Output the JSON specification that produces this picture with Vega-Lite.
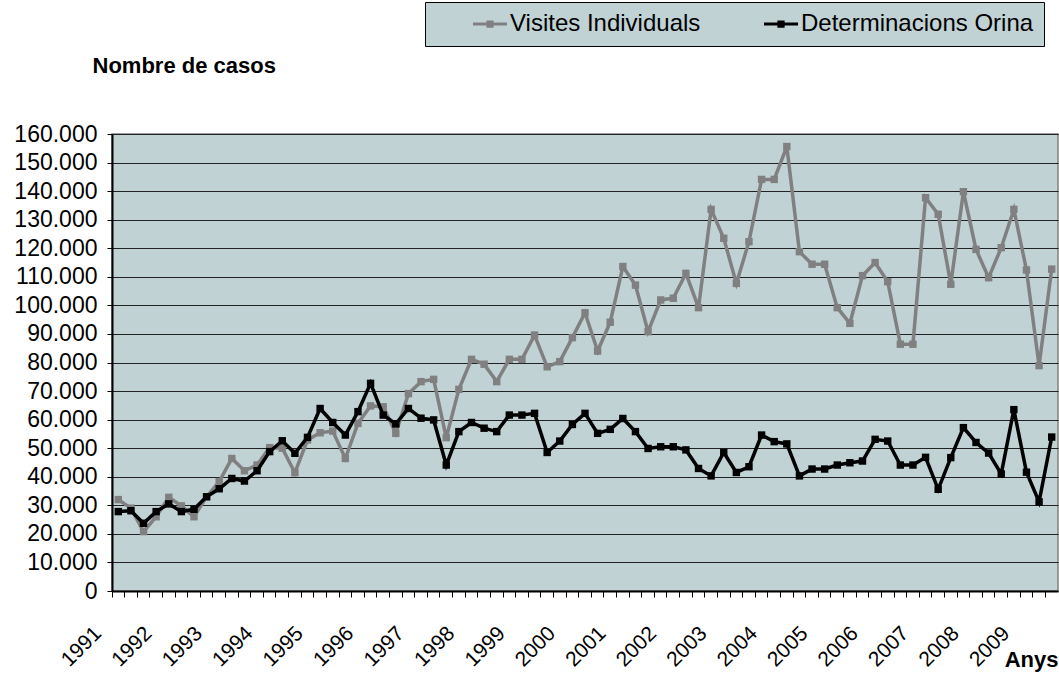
{
  "$schema": "https://vega.github.io/schema/vega-lite/v6.json",
  "width": 946,
  "height": 457,
  "autosize": {"type": "none"},
  "padding": {"left": 112, "top": 134, "right": 1, "bottom": 86},
  "background": "white",
  "config": {
    "locale": {"number": {"decimal": ",", "thousands": ".", "grouping": [3], "currency": ["", " €"]}},
    "view": {"fill": "#C0D2D4", "stroke": "#808080", "strokeWidth": 1.5},
    "font": "Liberation Sans"
  },
  "data": {"values": [
    {"t":"1991-1","vis":32000,"det":27800},{"t":"1991-2","vis":29000,"det":28100},{"t":"1991-3","vis":20800,"det":23700},{"t":"1991-4","vis":26000,"det":27800},
    {"t":"1992-1","vis":32800,"det":30500},{"t":"1992-2","vis":29800,"det":27800},{"t":"1992-3","vis":26000,"det":28600},{"t":"1992-4","vis":33000,"det":33000},
    {"t":"1993-1","vis":38300,"det":35800},{"t":"1993-2","vis":46400,"det":39400},{"t":"1993-3","vis":42100,"det":38500},{"t":"1993-4","vis":44100,"det":42100},
    {"t":"1994-1","vis":50200,"det":48800},{"t":"1994-2","vis":50000,"det":52600},{"t":"1994-3","vis":41400,"det":48200},{"t":"1994-4","vis":52900,"det":53800},
    {"t":"1995-1","vis":55400,"det":63900},{"t":"1995-2","vis":56000,"det":59000},{"t":"1995-3","vis":46400,"det":54600},{"t":"1995-4","vis":58700,"det":62800},
    {"t":"1996-1","vis":64800,"det":72700},{"t":"1996-2","vis":64500,"det":61600},{"t":"1996-3","vis":55200,"det":58500},{"t":"1996-4","vis":69100,"det":63900},
    {"t":"1997-1","vis":73300,"det":60500},{"t":"1997-2","vis":74100,"det":59900},{"t":"1997-3","vis":53700,"det":44100},{"t":"1997-4","vis":70600,"det":55800},
    {"t":"1998-1","vis":81100,"det":59000},{"t":"1998-2","vis":79400,"det":57000},{"t":"1998-3","vis":73300,"det":55800},{"t":"1998-4","vis":81100,"det":61600},
    {"t":"1999-1","vis":81100,"det":61600},{"t":"1999-2","vis":89600,"det":62200},{"t":"1999-3","vis":78500,"det":48500},{"t":"1999-4","vis":80300,"det":52500},
    {"t":"2000-1","vis":88700,"det":58300},{"t":"2000-2","vis":97400,"det":62200},{"t":"2000-3","vis":84000,"det":55200},{"t":"2000-4","vis":94100,"det":56600},
    {"t":"2001-1","vis":113600,"det":60400},{"t":"2001-2","vis":107100,"det":55800},{"t":"2001-3","vis":90800,"det":49900},{"t":"2001-4","vis":101900,"det":50500},
    {"t":"2002-1","vis":102500,"det":50500},{"t":"2002-2","vis":111200,"det":49400},{"t":"2002-3","vis":99200,"det":42900},{"t":"2002-4","vis":133600,"det":40300},
    {"t":"2003-1","vis":123500,"det":48500},{"t":"2003-2","vis":107700,"det":41500},{"t":"2003-3","vis":122300,"det":43500},{"t":"2003-4","vis":144100,"det":54600},
    {"t":"2004-1","vis":144100,"det":52300},{"t":"2004-2","vis":155600,"det":51500},{"t":"2004-3","vis":118800,"det":40300},{"t":"2004-4","vis":114400,"det":42700},
    {"t":"2005-1","vis":114400,"det":42700},{"t":"2005-2","vis":99200,"det":44100},{"t":"2005-3","vis":93700,"det":44900},{"t":"2005-4","vis":110400,"det":45500},
    {"t":"2006-1","vis":115000,"det":53100},{"t":"2006-2","vis":108300,"det":52500},{"t":"2006-3","vis":86400,"det":44100},{"t":"2006-4","vis":86400,"det":44100},
    {"t":"2007-1","vis":137700,"det":46800},{"t":"2007-2","vis":131900,"det":35600},{"t":"2007-3","vis":107400,"det":46700},{"t":"2007-4","vis":139800,"det":57200},
    {"t":"2008-1","vis":119600,"det":52000},{"t":"2008-2","vis":109700,"det":48300},{"t":"2008-3","vis":120200,"det":41000},{"t":"2008-4","vis":133600,"det":63500},
    {"t":"2009-1","vis":112400,"det":41600},{"t":"2009-2","vis":78900,"det":31200},{"t":"2009-3","vis":112700,"det":53900}
  ]},
  "transform": [
    {"fold": ["vis", "det"], "as": ["k", "value"]},
    {"lookup": "k", "from": {"data": {"values": [{"k": "vis", "serie": "Visites Individuals"}, {"k": "det", "serie": "Determinacions Orina"}]}, "key": "k", "fields": ["serie"]}}
  ],
  "encoding": {
    "x": {
      "field": "t", "type": "ordinal",
      "scale": {"type": "band", "paddingInner": 0, "paddingOuter": 0},
      "axis": {
        "title": "Anys", "titleFontWeight": "bold", "titleFontSize": 22, "titleX": 946, "titleY": 75, "titleAlign": "right", "titleBaseline": "alphabetic", "titleColor": "#000",
        "labelExpr": "substring(datum.label, 5) == '1' ? substring(datum.label, 0, 4) : ''",
        "labelAngle": -45, "labelAlign": "right", "labelBaseline": "middle", "labelFontSize": 21, "labelColor": "#000", "labelPadding": 33, "labelOffset": -20,
        "bandPosition": 0, "tickSize": 6, "tickColor": "#000", "tickWidth": 1,
        "domainColor": "#000", "domainWidth": 2, "grid": false, "labelOverlap": false
      }
    },
    "y": {
      "field": "value", "type": "quantitative",
      "scale": {"domain": [0, 160000], "nice": false},
      "axis": {
        "values": [0,10000,20000,30000,40000,50000,60000,70000,80000,90000,100000,110000,120000,130000,140000,150000,160000],
        "format": ",.0f", "labelFontSize": 23, "labelColor": "#000", "labelPadding": 10, "tickSize": 5, "tickColor": "#000",
        "domainColor": "#000", "domainWidth": 2, "grid": true, "gridColor": "#222", "gridWidth": 1, "gridOpacity": 1,
        "title": "Nombre de casos", "titleAngle": 0, "titleX": -20, "titleY": -62, "titleAlign": "left", "titleBaseline": "alphabetic",
        "titleFontSize": 22, "titleFontWeight": "bold", "titleColor": "#000"
      }
    },
    "color": {
      "field": "serie", "type": "nominal",
      "scale": {"domain": ["Visites Individuals", "Determinacions Orina"], "range": ["#808080", "#000000"]},
      "legend": {
        "title": null, "orient": "none", "legendX": 313, "legendY": -132, "direction": "horizontal",
        "fillColor": "#C0D2D4", "strokeColor": "#000", "padding": 10,
        "symbolType": "M-2,0H2M-0.25,-0.25H0.25V0.25H-0.25Z", "symbolSize": 289, "symbolStrokeWidth": 3, "symbolOffset": 43,
        "labelFontSize": 24, "labelOffset": 8, "columnPadding": 25, "labelColor": "#000", "labelLimit": 500
      }
    }
  },
  "layer": [
    {
      "transform": [{"filter": "datum.k == 'vis'"}],
      "mark": {"type": "line", "strokeWidth": 3.5, "point": {"shape": "square", "size": 55, "filled": true, "opacity": 1}}
    },
    {
      "transform": [{"filter": "datum.k == 'det'"}],
      "mark": {"type": "line", "strokeWidth": 3.5, "point": {"shape": "square", "size": 55, "filled": true, "opacity": 1}}
    }
  ]
}
